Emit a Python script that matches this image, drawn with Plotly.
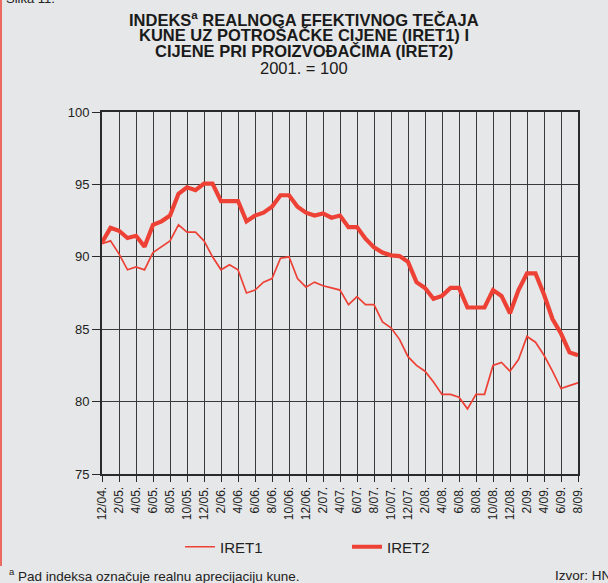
import plotly.graph_objects as go

months = [
    "12/04.",
    "1/05.", "2/05.", "3/05.", "4/05.", "5/05.", "6/05.", "7/05.", "8/05.", "9/05.", "10/05.", "11/05.", "12/05.",
    "1/06.", "2/06.", "3/06.", "4/06.", "5/06.", "6/06.", "7/06.", "8/06.", "9/06.", "10/06.", "11/06.", "12/06.",
    "1/07.", "2/07.", "3/07.", "4/07.", "5/07.", "6/07.", "7/07.", "8/07.", "9/07.", "10/07.", "11/07.", "12/07.",
    "1/08.", "2/08.", "3/08.", "4/08.", "5/08.", "6/08.", "7/08.", "8/08.", "9/08.", "10/08.", "11/08.", "12/08.",
    "1/09.", "2/09.", "3/09.", "4/09.", "5/09.", "6/09.", "7/09.", "8/09.",
]

tick_labels = [
    "12/04.", "2/05.", "4/05.", "6/05.", "8/05.", "10/05.", "12/05.",
    "2/06.", "4/06.", "6/06.", "8/06.", "10/06.", "12/06.",
    "2/07.", "4/07.", "6/07.", "8/07.", "10/07.", "12/07.",
    "2/08.", "4/08.", "6/08.", "8/08.", "10/08.", "12/08.",
    "2/09.", "4/09.", "6/09.", "8/09.",
]

y_ticks = [75, 80, 85, 90, 95, 100]

iret1 = [
    90.9, 91.1, 90.2, 89.1, 89.3, 89.1, 90.3, 90.7, 91.1, 92.2, 91.7, 91.7, 91.1,
    90.0, 89.1, 89.45, 89.1, 87.5, 87.7, 88.25, 88.5, 89.9, 90.0, 88.5, 87.9,
    88.25, 88.0, 87.85, 87.7, 86.7, 87.25, 86.7, 86.7, 85.5, 85.1, 84.3, 83.1,
    82.5, 82.1, 81.35, 80.5, 80.5, 80.3, 79.5, 80.5, 80.5, 82.5, 82.7, 82.1,
    82.9, 84.5, 84.1, 83.2, 82.1, 80.9, 81.1, 81.3,
]

iret2 = [
    91.0, 92.0, 91.8, 91.3, 91.45, 90.7, 92.2, 92.45, 92.85, 94.35, 94.8, 94.6, 95.05,
    95.05, 93.85, 93.85, 93.85, 92.45, 92.85, 93.05, 93.45, 94.25, 94.25, 93.45, 93.05,
    92.85, 93.0, 92.7, 92.85, 92.05, 92.05, 91.25, 90.65, 90.3, 90.1, 90.05, 89.65,
    88.25, 87.85, 87.1, 87.3, 87.85, 87.85, 86.5, 86.5, 86.5, 87.7, 87.3, 86.1,
    87.7, 88.85, 88.85, 87.4, 85.7, 84.7, 83.4, 83.2,
]

W, H = 608, 583
L, R, T, B = 102, 30, 112, 109
PW = W - L - R
PH = H - T - B


def px(x):
    return (x - L) / PW


def py(y):
    return (H - B - y) / PH


RED = "#ee4136"
BG = "#e6e7e8"
DARK = "#2a2a2a"
FONT = "Liberation Sans, Arial, sans-serif"

fig = go.Figure()
fig.add_trace(go.Scatter(x=months, y=iret1, mode="lines", name="IRET1",
                         line=dict(color=RED, width=1.7), cliponaxis=False))
fig.add_trace(go.Scatter(x=months, y=iret2, mode="lines", name="IRET2",
                         line=dict(color=RED, width=4.2), cliponaxis=False))

fig.update_layout(
    width=W, height=H,
    margin=dict(l=L, r=R, t=T, b=B, autoexpand=False),
    paper_bgcolor=BG, plot_bgcolor=BG,
    font=dict(family=FONT, color="#222222", size=12),
    showlegend=True,
    legend=dict(orientation="h", x=px(180), xanchor="left", y=py(547), yanchor="middle",
                font=dict(size=15, color="#222222"), bgcolor="rgba(0,0,0,0)",
                entrywidth=122, traceorder="normal"),
    xaxis=dict(type="category", categoryorder="array", categoryarray=months,
               range=[0, len(months) - 1], tickmode="array", tickvals=tick_labels,
               ticktext=tick_labels, tickangle=-90, ticks="outside", ticklen=6,
               tickcolor=DARK, tickwidth=1, showgrid=True, gridcolor="#3a3a3a",
               gridwidth=1, showline=True, linecolor=DARK, linewidth=2, mirror=True,
               tickfont=dict(size=12, color="#222222"), zeroline=False, fixedrange=True),
    yaxis=dict(range=[75, 100], tickmode="array", tickvals=y_ticks, ticks="outside",
               ticklen=8, tickcolor=DARK, tickwidth=1, showgrid=True, gridcolor="#3a3a3a",
               gridwidth=1, showline=True, linecolor=DARK, linewidth=2, mirror=True,
               tickfont=dict(size=13, color="#222222"), zeroline=False, fixedrange=True),
)

title_lines = [
    ("<b>INDEKS<sup>a</sup> REALNOGA EFEKTIVNOG TEČAJA</b>", 19),
    ("<b>KUNE UZ POTROŠAČKE CIJENE (IRET1) I</b>", 35),
    ("<b>CIJENE PRI PROIZVOĐAČIMA (IRET2)</b>", 51),
    ("2001. = 100", 68),
]
for txt, yy in title_lines:
    fig.add_annotation(text=txt, xref="paper", yref="paper", x=px(304), y=py(yy),
                       xanchor="center", yanchor="middle", showarrow=False,
                       font=dict(size=16.5, color="#1a1a1a", family=FONT))

fig.add_annotation(text="Slika 11.", xref="paper", yref="paper", x=px(4), y=py(-1),
                   xanchor="left", yanchor="middle", showarrow=False,
                   font=dict(size=13, color="#222222"))
fig.add_annotation(text="<sup>a</sup> Pad indeksa označuje realnu aprecijaciju kune.",
                   xref="paper", yref="paper", x=px(7), y=py(575),
                   xanchor="left", yanchor="middle", showarrow=False,
                   font=dict(size=13.5, color="#222222"))
fig.add_annotation(text="Izvor: HNB", xref="paper", yref="paper", x=px(553), y=py(575),
                   xanchor="left", yanchor="middle", showarrow=False,
                   font=dict(size=13.5, color="#222222"))

fig.add_shape(type="line", xref="paper", yref="paper", x0=px(1), x1=px(1),
              y0=py(0), y1=py(566), line=dict(color=RED, width=1.5))

fig.write_html(
    "out.html",
    config={"displayModeBar": False},
    post_script="document.body.style.margin='0';document.body.style.background='#e6e7e8';",
)
